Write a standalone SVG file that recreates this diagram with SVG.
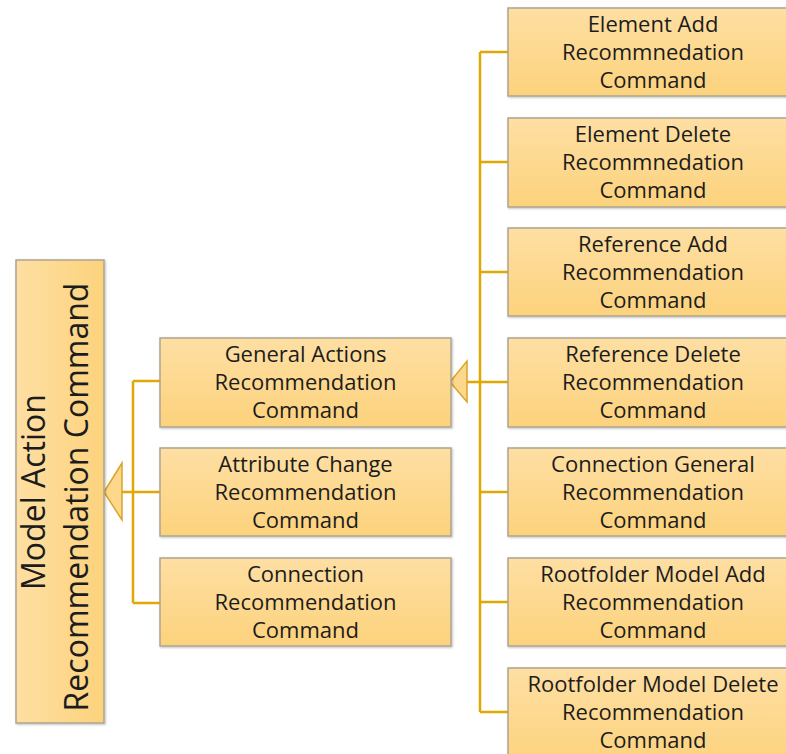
<svg xmlns="http://www.w3.org/2000/svg" width="786" height="754" viewBox="0 0 786 754">
<defs>
<linearGradient id="g" x1="0" y1="0" x2="0" y2="1">
<stop offset="0" stop-color="#FEDFA3"/>
<stop offset="1" stop-color="#FCD27C"/>
</linearGradient>
<linearGradient id="gh" x1="0" y1="0" x2="1" y2="0">
<stop offset="0" stop-color="#FEDFA3"/>
<stop offset="1" stop-color="#FCD27C"/>
</linearGradient>
<filter id="sh" x="-5%" y="-5%" width="110%" height="115%">
<feDropShadow dx="1" dy="1" stdDeviation="0.8" flood-color="#000" flood-opacity="0.25"/>
</filter>
</defs>
<style>
.box{fill:url(#g);stroke:#ADA591;stroke-width:1.5;filter:url(#sh)}
.t{font-family:"Open Sans","Liberation Sans",sans-serif;font-size:22px;fill:#1c1c1c;text-anchor:middle}
.tl{font-family:"Open Sans","Liberation Sans",sans-serif;font-size:32px;fill:#1c1c1c;text-anchor:middle}
.ln{stroke:#E0A800;stroke-width:2.5;fill:none}
.tri{fill:#FDD78C;stroke:#D9A52A;stroke-width:1.5}
</style>
<rect width="786" height="754" fill="#fff"/>
<g id="connectors">
<path class="ln" d="M133 381V603M133 381H160M133 492H160M133 603H160M122 492H133"/>
<polygon class="tri" points="104,492 122,463 122,520"/>
<path class="ln" d="M480 52V712M480 52H508M480 162H508M480 272H508M480 382H508M480 492H508M480 602H508M480 712H508M467 382H480"/>
<polygon class="tri" points="450,382 467,361 467,402"/>
</g>
<g id="model-action">
<rect class="box" x="16" y="260" width="88" height="463" style="fill:url(#gh)"/>
<text class="tl" transform="translate(45,492) rotate(-90)">Model Action</text>
<text class="tl" transform="translate(88,497) rotate(-90)">Recommendation Command</text>
</g>
<g id="general-actions">
<rect class="box" x="160" y="338" width="291" height="89"/>
<text class="t" x="305.5" y="362">General Actions</text>
<text class="t" x="305.5" y="390">Recommendation</text>
<text class="t" x="305.5" y="418">Command</text>
</g>
<g id="attribute-change">
<rect class="box" x="160" y="448" width="291" height="88"/>
<text class="t" x="305.5" y="472">Attribute Change</text>
<text class="t" x="305.5" y="500">Recommendation</text>
<text class="t" x="305.5" y="528">Command</text>
</g>
<g id="connection">
<rect class="box" x="160" y="558" width="291" height="88"/>
<text class="t" x="305.5" y="582">Connection</text>
<text class="t" x="305.5" y="610">Recommendation</text>
<text class="t" x="305.5" y="638">Command</text>
</g>
<g id="element-add">
<rect class="box" x="508" y="8" width="291" height="88"/>
<text class="t" x="653" y="32">Element Add</text>
<text class="t" x="653" y="60">Recommnedation</text>
<text class="t" x="653" y="88">Command</text>
</g>
<g id="element-delete">
<rect class="box" x="508" y="118" width="291" height="89"/>
<text class="t" x="653" y="142">Element Delete</text>
<text class="t" x="653" y="170">Recommnedation</text>
<text class="t" x="653" y="198">Command</text>
</g>
<g id="reference-add">
<rect class="box" x="508" y="228" width="291" height="88"/>
<text class="t" x="653" y="252">Reference Add</text>
<text class="t" x="653" y="280">Recommendation</text>
<text class="t" x="653" y="308">Command</text>
</g>
<g id="reference-delete">
<rect class="box" x="508" y="338" width="291" height="89"/>
<text class="t" x="653" y="362">Reference Delete</text>
<text class="t" x="653" y="390">Recommendation</text>
<text class="t" x="653" y="418">Command</text>
</g>
<g id="connection-general">
<rect class="box" x="508" y="448" width="291" height="88"/>
<text class="t" x="653" y="472">Connection General</text>
<text class="t" x="653" y="500">Recommendation</text>
<text class="t" x="653" y="528">Command</text>
</g>
<g id="rootfolder-model-add">
<rect class="box" x="508" y="558" width="291" height="88"/>
<text class="t" x="653" y="582">Rootfolder Model Add</text>
<text class="t" x="653" y="610">Recommendation</text>
<text class="t" x="653" y="638">Command</text>
</g>
<g id="rootfolder-model-delete">
<rect class="box" x="508" y="668" width="291" height="100"/>
<text class="t" x="653" y="692">Rootfolder Model Delete</text>
<text class="t" x="653" y="720">Recommendation</text>
<text class="t" x="653" y="748">Command</text>
</g>
</svg>
